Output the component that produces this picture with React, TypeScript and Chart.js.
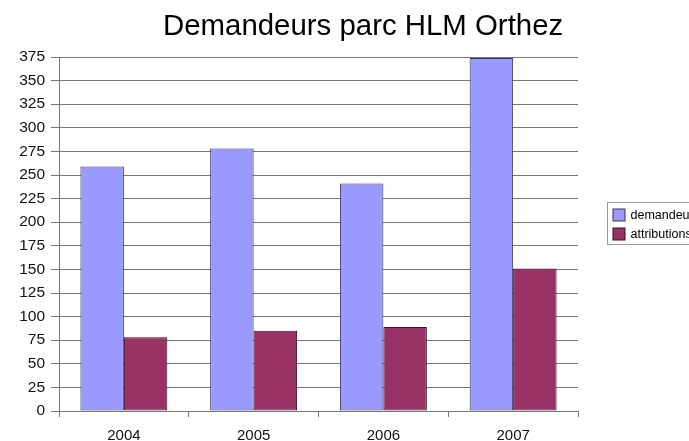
import React, { useEffect, useRef } from "react";
import { Chart, registerables } from "chart.js";

Chart.register(...registerables);

const TITLE = "Demandeurs parc HLM Orthez";
const categories = ["2004", "2005", "2006", "2007"];
const demandeurs = [259, 278, 241, 374];
const attributions = [78, 85, 89, 151];
const seriesLabels = ["demandeurs", "attributions"];
const yMin = 0;
const yMax = 375;
const yStep = 25;

const FONT = "'Liberation Sans', Arial, Helvetica, sans-serif";

const titlePlugin = {
  id: "customTitle",
  afterDraw(chart: any) {
    const ctx = chart.ctx;
    ctx.save();
    ctx.font = `29.4px ${FONT}`;
    ctx.fillStyle = "#000";
    ctx.textAlign = "center";
    ctx.textBaseline = "alphabetic";
    ctx.fillText(TITLE, chart.width * 0.527, 35);
    ctx.restore();
  },
};

const legendPlugin = {
  id: "customLegend",
  afterDraw(chart: any) {
    const ctx = chart.ctx;
    const ds = chart.data.datasets;
    const x0 = chart.chartArea.right + 29.5;
    const y0 = 202.5;
    const rowH = 19;
    const h = ds.length * rowH + 4;
    ctx.save();
    ctx.strokeStyle = "#999";
    ctx.lineWidth = 1;
    ctx.strokeRect(x0, y0, 120, h);
    ctx.font = `12.5px ${FONT}`;
    ctx.textBaseline = "middle";
    ctx.textAlign = "left";
    ds.forEach((d: any, i: number) => {
      const sy = y0 + 6 + i * rowH;
      ctx.fillStyle = d.backgroundColor;
      ctx.fillRect(x0 + 5.5, sy + 0.5, 12, 12);
      ctx.strokeStyle = d.borderColor;
      ctx.strokeRect(x0 + 5.5, sy + 0.5, 12, 12);
      ctx.fillStyle = "#000";
      ctx.fillText(d.label, x0 + 23, sy + 7);
    });
    ctx.restore();
  },
};

export default function App() {
  const ref = useRef<HTMLCanvasElement | null>(null);
  useEffect(() => {
    if (!ref.current) return;
    const chart = new Chart(ref.current, {
      type: "bar",
      data: {
        labels: categories,
        datasets: [
          {
            label: seriesLabels[0],
            data: demandeurs,
            backgroundColor: "#9999ff",
            borderColor: "#34345a",
            borderWidth: 1,
            borderSkipped: false,
          },
          {
            label: seriesLabels[1],
            data: attributions,
            backgroundColor: "#993366",
            borderColor: "#3f0b24",
            borderWidth: 1,
            borderSkipped: false,
          },
        ],
      },
      options: {
        animation: false,
        responsive: false,
        maintainAspectRatio: false,
        layout: { padding: { top: 57, right: 111, left: 0, bottom: 0 } },
        plugins: {
          legend: { display: false },
          title: { display: false },
          tooltip: { enabled: false },
        },
        datasets: {
          bar: { categoryPercentage: 0.67, barPercentage: 1 },
        },
        scales: {
          x: {
            offset: true,
            afterFit: (s: any) => {
              s.height = 30;
            },
            grid: {
              display: true,
              drawOnChartArea: false,
              drawTicks: true,
              tickLength: 6,
              color: "#777",
              offset: true,
            },
            border: { display: true, color: "#777" },
            ticks: {
              color: "#111",
              font: { family: FONT, size: 15 },
              padding: 10,
              maxRotation: 0,
            },
          },
          y: {
            min: yMin,
            max: yMax,
            afterFit: (s: any) => {
              s.width = 59;
            },
            grid: {
              color: "#777",
              tickLength: 8,
              drawTicks: true,
            },
            border: { display: true, color: "#777" },
            ticks: {
              stepSize: yStep,
              color: "#111",
              font: { family: FONT, size: 15.5 },
              padding: 6,
            },
          },
        },
      },
      plugins: [titlePlugin, legendPlugin],
    });
    return () => chart.destroy();
  }, []);
  return (
    <div style={{ position: "fixed", left: 0, top: 0, width: 689, height: 441, background: "#fff" }}>
      <canvas ref={ref} width={689} height={441} style={{ display: "block" }} />
    </div>
  );
}
